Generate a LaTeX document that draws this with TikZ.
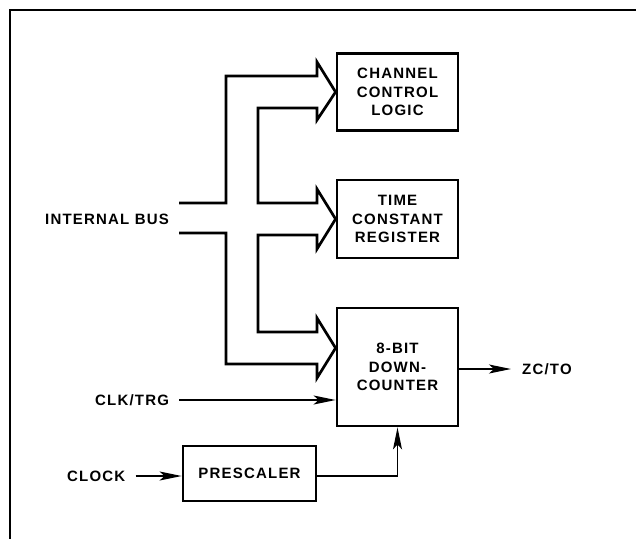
\documentclass[tikz,border=0pt]{standalone}
\usepackage{fontspec}
\setmainfont{Liberation Sans}[LetterSpace=8]
\usetikzlibrary{arrows.meta,calc}
\tikzset{
  blk/.style={draw, line width=2.8pt, rectangle, align=center, inner sep=0pt,
    font=\fontsize{15}{18.5}\selectfont\bfseries},
  lbl/.style={inner sep=0pt, anchor=west, font=\fontsize{15}{17}\selectfont\bfseries},
  bus/.style={line width=2.7pt, line join=miter},
  sig/.style={line width=1.4pt, -{Stealth[length=22pt,width=9pt,inset=5pt]}},
  frame/.style={line width=1.4pt}
}
\begin{document}
\begin{tikzpicture}[x=1pt,y=-1pt]
\useasboundingbox (0,0) rectangle (636,539);
\draw[frame] (636,10) -- (10,10) -- (10,539);
% blocks
\node[blk, minimum width=121pt, minimum height=77pt] (ccl) at (397.5,92) {CHANNEL\\CONTROL\\LOGIC};
\node[blk, minimum width=121pt, minimum height=78pt] (tcr) at (397.5,219) {TIME\\CONSTANT\\REGISTER};
\node[blk, minimum width=121pt, minimum height=118pt] (dc) at (397.5,367) {8-BIT\\DOWN-\\COUNTER};
\node[blk, minimum width=133pt, minimum height=55pt] (pre) at (249.5,473.5) {PRESCALER};
% labels
\node[lbl] (ibus) at (45,219) {INTERNAL BUS};
\node[lbl] (clktrg) at (95,400) {CLK/TRG};
\node[lbl] (clock) at (67,476) {CLOCK};
\node[lbl] (zcto) at (522,369) {ZC/TO};
% internal bus
\coordinate (tA) at (ccl.west);
\coordinate (tB) at (tcr.west);
\coordinate (tC) at (dc.west |- 0,348);
\draw[bus] (179,203) -- (226,203) -- (226,76) -- (317,76) -- (317,62) -- (tA)
  -- (317,120) -- (317,108) -- (258,108) -- (258,203) -- (317,203) -- (317,189)
  -- (tB) -- (317,249) -- (317,235) -- (258,235) -- (258,332) -- (317,332)
  -- (317,318) -- (tC) -- (317,378) -- (317,364) -- (226,364) -- (226,233) -- (179,233);
% signals
\draw[sig] ([xshift=10pt]clktrg.east) -- (clktrg -| dc.west);
\draw[sig] ([xshift=10pt]clock.east) -- (clock -| pre.west);
\draw[sig] (pre.east |- clock) -| (dc.south);
\draw[sig] (zcto -| dc.east) -- ([xshift=-11pt]zcto.west);
\end{tikzpicture}
\end{document}
